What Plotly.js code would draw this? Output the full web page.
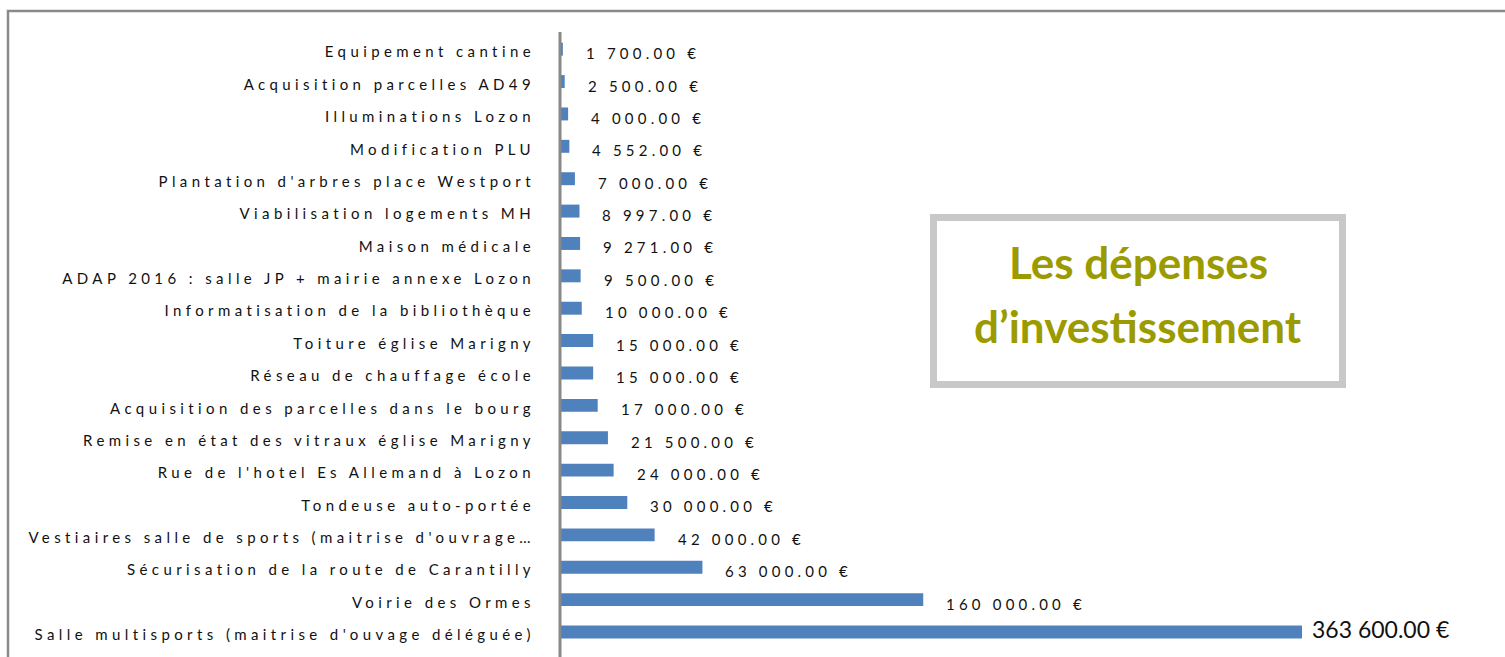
<!DOCTYPE html>
<html>
<head>
<meta charset="utf-8">
<script src="https://cdn.plot.ly/plotly-3.0.1.min.js"></script>
<style>
  html, body { margin: 0; padding: 0; background: #fff; }
  #chart { width: 1505px; height: 657px; }
  .ytick text { letter-spacing: 4.4px; }
  g.annotation text { letter-spacing: 4.2px; }
  g.annotation[data-index="18"] text,
  g.annotation[data-index="19"] text,
  g.annotation[data-index="20"] text { letter-spacing: 0px; }
</style>
</head>
<body>
<div id="chart"></div>
<script>
// Categories, top to bottom as shown
const categories = [
  "Equipement cantine",
  "Acquisition parcelles AD49",
  "Illuminations Lozon",
  "Modification PLU",
  "Plantation d'arbres place Westport",
  "Viabilisation logements MH",
  "Maison médicale",
  "ADAP 2016 : salle JP + mairie annexe Lozon",
  "Informatisation de la bibliothèque",
  "Toiture église Marigny",
  "Réseau de chauffage école",
  "Acquisition des parcelles dans le bourg",
  "Remise en état des vitraux église Marigny",
  "Rue de l'hotel Es Allemand à Lozon",
  "Tondeuse auto-portée",
  "Vestiaires salle de sports (maitrise d'ouvrage…",
  "Sécurisation de la route de Carantilly",
  "Voirie des Ormes",
  "Salle multisports (maitrise d'ouvage déléguée)"
];
const amounts = [1700, 2500, 4000, 4552, 7000, 8997, 9271, 9500, 10000, 15000,
                 15000, 17000, 21500, 24000, 30000, 42000, 63000, 160000, 363600];
const titleLines = ["Les dépenses", "d’investissement"];

const xMax = 326400; // visible axis extent (longest bar is cut off as in the original)

function euro(v) {
  const parts = v.toFixed(2).split(".");
  const intPart = parts[0].replace(/\B(?=(\d{3})+(?!\d))/g, " ");
  return intPart + "." + parts[1] + " €";
}

const trace = {
  type: "bar",
  orientation: "h",
  y: categories,
  x: amounts,
  marker: { color: "#4F81BD", line: { width: 0 } },
  hoverinfo: "x+y"
};

const L = 559, R = 203, T = 33, B = 6, W = 1505, H = 657;
const pw = W - L - R, ph = H - T - B;
const px = x => (x - L) / pw;
const py = y => (H - B - y) / ph;

const annotations = amounts.map((v, i) => {
  const clipped = v > xMax;
  return {
    x: Math.min(v, xMax), y: categories[i], xref: "x", yref: "y",
    text: euro(v), showarrow: false, xanchor: "left", align: "left",
    xshift: clipped ? 8 : 21, yshift: clipped ? 3 : -4,
    font: { family: "Lato, sans-serif", size: clipped ? 23 : 15, color: "#111" }
  };
});
titleLines.forEach((t, k) => {
  annotations.push({
    x: px(1138), y: py(k === 0 ? 262 : 326), xref: "paper", yref: "paper",
    text: "<b>" + t + "</b>", showarrow: false, xanchor: "center", yanchor: "middle",
    font: { family: "Lato, sans-serif", size: 44, color: "#9B9B00" }
  });
});

const layout = {
  width: W, height: H,
  margin: { l: L, r: R, t: T, b: B, pad: 0 },
  paper_bgcolor: "#fff", plot_bgcolor: "#fff",
  showlegend: false,
  bargap: 0.6,
  xaxis: { range: [0, xMax], visible: false, fixedrange: true },
  yaxis: {
    autorange: "reversed", type: "category",
    showline: false, showgrid: false, zeroline: false, ticks: "",
    ticklabelstandoff: 23,
    ticklabelshift: -3,
    tickfont: { family: "Lato, sans-serif", size: 15, color: "#111" },
    fixedrange: true
  },
  shapes: [
    { type: "line", xref: "paper", yref: "paper", x0: px(560), x1: px(560), y0: py(32), y1: py(660),
      line: { color: "#888", width: 3 } },
    { type: "rect", xref: "paper", yref: "paper", x0: px(8), x1: px(1520), y0: py(11), y1: py(680),
      line: { color: "#8a8a8a", width: 2.5 }, fillcolor: "rgba(0,0,0,0)" },
    { type: "rect", xref: "paper", yref: "paper", x0: px(933.5), x1: px(1342.5), y0: py(217.5), y1: py(384.5),
      line: { color: "#C8C8C8", width: 7 }, fillcolor: "#fff" }
  ],
  annotations: annotations
};

Plotly.newPlot("chart", [trace], layout, { displayModeBar: false, staticPlot: true });
</script>
</body>
</html>
